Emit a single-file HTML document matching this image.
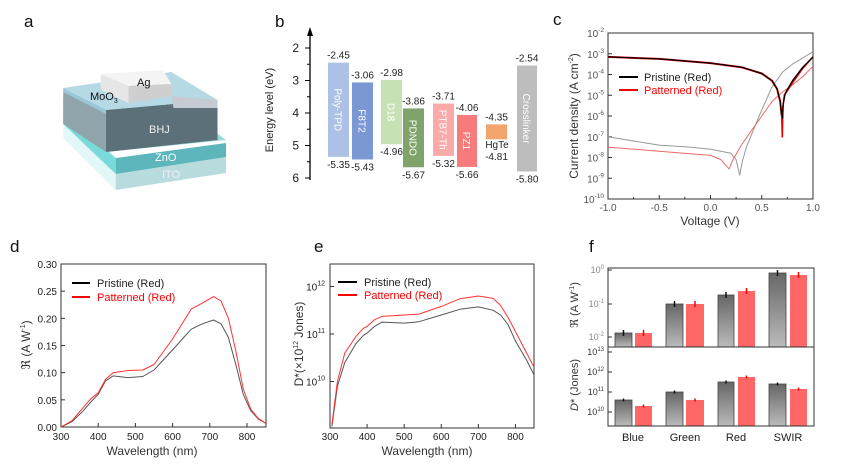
<!DOCTYPE html><html><head><meta charset="utf-8"><style>
body{margin:0;background:#fff}
svg{font-family:"Liberation Sans",Arial,sans-serif}
.t{font-size:10px;fill:#555}
.k{font-size:10px;fill:#222}
.lab{font-size:17px;fill:#111}
.ax{font-size:12px;fill:#333}
</style></head><body>
<svg id="s" width="857" height="467" viewBox="0 0 857 467" xmlns="http://www.w3.org/2000/svg">
<defs>
<linearGradient id="gg" x1="0" y1="0" x2="0" y2="1"><stop offset="0" stop-color="#666"/><stop offset="1" stop-color="#bbb"/></linearGradient>
</defs>
<text class="lab" x="24" y="27">a</text>
<text class="lab" x="275" y="27">b</text>
<text class="lab" x="553" y="25">c</text>
<text class="lab" x="10" y="252">d</text>
<text class="lab" x="314" y="252">e</text>
<text class="lab" x="589" y="252">f</text>

<g transform="scale(1.0714,1)">
<polygon points="59,138 108,190 108,174 59,124" fill="#e2f8f8"/>
<polygon points="108,190 211,173 211,157 108,174" fill="#b8dcdd"/>
<polygon points="59,124 108,174 108,158 59,110" fill="#7adada"/>
<polygon points="108,174 211,157 211,143 108,158" fill="#5cb6bc"/>
<polygon points="59,110 99,152 211,140 160,100 59,100" fill="#6fc9cc" opacity="0.7"/>
<polygon points="59,92 99,110 99,152 59,124" fill="#8fa4ab"/>
<polygon points="99,110 203,100 203,140 99,152" fill="#5b7079"/>
<polygon points="59,88 160,72 203,100 99,110" fill="#b6d9e6"/>
<polygon points="160,96 203,100 203,108 162,108" fill="#c6cad3"/>
<polygon points="59,88 99,110 99,114 59,92" fill="#9cc6d6"/>
<polygon points="94,74 152,70 160,84 120,86" fill="#f4f4f4"/>
<polygon points="120,86 160,84 160,96 120,103" fill="#cfcfcf"/>
<polygon points="94,74 120,86 120,103 94,90" fill="#e6e6e6"/>
</g>
<text x="137" y="86" font-size="11" fill="#111">Ag</text>
<text x="90" y="100" font-size="11" fill="#111">MoO<tspan font-size="7" dy="3">3</tspan></text>
<text x="149" y="133" font-size="11" fill="#eee">BHJ</text>
<text x="155" y="161" font-size="11" fill="#fff">ZnO</text>
<text x="162" y="178" font-size="11" fill="#eef">ITO</text>

<g id="b"></g><g id="c"></g><g id="d"></g><g id="e"></g><g id="f"></g>
</svg>
<script>
var NS="http://www.w3.org/2000/svg";
function el(p,t,a,txt){var e=document.createElementNS(NS,t);for(var k in a)e.setAttribute(k,a[k]);if(txt!=null)e.textContent=txt;p.appendChild(e);return e;}
function H(p,t,a,h){var e=el(p,t,a);e.innerHTML=h;return e;}
function path(p,pts,fx,fy,st,w){var d="";pts.forEach(function(q,i){d+=(i?"L":"M")+fx(q[0]).toFixed(1)+","+fy(q[1]).toFixed(1);});el(p,"path",{d:d,fill:"none",stroke:st,"stroke-width":w,"stroke-linejoin":"round"});}
// ---- b
var b=document.getElementById("b");
var yb=function(E){return 48+(E-2)*32.5;};
el(b,"line",{x1:310,y1:180,x2:310,y2:30,stroke:"#000","stroke-width":1.3});
el(b,"polygon",{points:"307,36 313,36 310,27",fill:"#000"});
for(var i=2;i<=6;i++){el(b,"line",{x1:305,x2:310,y1:yb(i),y2:yb(i),stroke:"#000"});el(b,"text",{x:299,y:yb(i)+4,"text-anchor":"end","font-size":12,fill:"#222"},""+i);}
for(var i=2.5;i<6;i+=1)el(b,"line",{x1:307,x2:310,y1:yb(i),y2:yb(i),stroke:"#000"});
H(b,"text",{transform:"translate(273,110) rotate(-90)","text-anchor":"middle","font-size":11,fill:"#222"},"Energy level (eV)");
var bars=[[328,349,2.45,5.35,"#adc1e6","Poly-TPD"],[352,373,3.06,5.43,"#7b98d4","F8T2"],[381,402,2.98,4.96,"#c6e2b4","D18"],[403,424,3.86,5.67,"#7fa36a","PDNDO"],[433,454,3.71,5.32,"#fba9a9","PTB7-Th"],[457,477,4.06,5.66,"#f87b7b","PZ1"],[486,507,4.35,4.81,"#f3a46c",""],[517,537,2.54,5.80,"#bdbdbd","Crosslinker"]];
bars.forEach(function(r){el(b,"rect",{x:r[0],y:yb(r[2]),width:r[1]-r[0],height:yb(r[3])-yb(r[2]),fill:r[4]});
var cx=(r[0]+r[1])/2;
if(r[5])el(b,"text",{transform:"translate("+(cx-4)+","+((yb(r[2])+yb(r[3]))/2)+") rotate(90)","text-anchor":"middle","font-size":10,fill:"#fff"},r[5]);
el(b,"text",{x:cx,y:yb(r[2])-4,"text-anchor":"middle","font-size":10,fill:"#222"},"-"+r[2].toFixed(2));
var ly=r[5]?yb(r[3])+11:160;
el(b,"text",{x:cx,y:ly,"text-anchor":"middle","font-size":10,fill:"#222"},"-"+r[3].toFixed(2));});
el(b,"text",{x:497,y:148,"text-anchor":"middle","font-size":10,fill:"#222"},"HgTe");
// ---- c
var c=document.getElementById("c");
var cx=function(v){return 608+(v+1)*102.5;}, cy=function(l){return 33+(-2-l)*20.75;};
el(c,"rect",{x:608,y:33,width:205,height:166,fill:"none",stroke:"#333","stroke-width":1});
for(var i=-2;i>=-10;i--){el(c,"line",{x1:608,x2:612,y1:cy(i),y2:cy(i),stroke:"#333"});H(c,"text",{x:604,y:cy(i)+4,"text-anchor":"end",class:"t"},"10<tspan font-size='6.5' dy='-5'>"+i+"</tspan>");}
[-1,-0.5,0,0.5,1].forEach(function(v){el(c,"line",{x1:cx(v),x2:cx(v),y1:199,y2:195,stroke:"#333"});el(c,"text",{x:cx(v),y:211,"text-anchor":"middle",class:"t"},v.toFixed(1));});
for(var v=-0.75;v<1;v+=0.5)el(c,"line",{x1:cx(v),x2:cx(v),y1:199,y2:197,stroke:"#333"});
el(c,"text",{x:710,y:225,"text-anchor":"middle",class:"ax"},"Voltage (V)");
H(c,"text",{transform:"translate(578,116) rotate(-90)","text-anchor":"middle",class:"ax"},"Current density (A cm<tspan font-size='7' dy='-5'>-2</tspan><tspan dy='5'>)</tspan>");
var dk=[[-1,-7],[-0.7,-7.25],[-0.5,-7.4],[-0.2,-7.5],[0,-7.6],[0.2,-7.8],[0.25,-8.1],[0.285,-8.85],[0.31,-8.2],[0.35,-7.5],[0.45,-6.3],[0.5,-5.7],[0.6,-4.6],[0.7,-3.9],[0.8,-3.5],[0.9,-3.2],[1,-2.9]];
var dr=[[-1,-7.5],[-0.5,-7.7],[0,-7.9],[0.1,-8.1],[0.18,-8.55],[0.22,-8.1],[0.3,-7.4],[0.4,-6.7],[0.5,-6],[0.6,-5.3],[0.7,-4.85],[0.8,-4.5],[0.9,-4.1],[1,-3.6]];
path(c,dk,cx,cy,"#999",1);path(c,dr,cx,cy,"#f06868",1);
var lt=[[-1,-3.15],[-0.5,-3.25],[0,-3.45],[0.3,-3.65],[0.5,-3.95],[0.6,-4.3],[0.65,-4.7],[0.68,-5.3],[0.695,-6]];
path(c,lt,cx,cy,"#e00",2);path(c,lt,cx,cy,"#000",1.2);
path(c,[[0.695,-5.9],[0.7,-7],[0.705,-5.6],[0.72,-5],[0.8,-4.4],[0.9,-3.7],[1,-3.15]],cx,cy,"#e00",1.6);
path(c,[[0.695,-5.7],[0.703,-6.1],[0.71,-5.4],[0.73,-4.9],[0.8,-4.3],[0.9,-3.65],[1,-3.15]],cx,cy,"#000",1.3);
el(c,"line",{x1:619,x2:638,y1:77,y2:77,stroke:"#000","stroke-width":2});
el(c,"line",{x1:619,x2:638,y1:90,y2:90,stroke:"#f00","stroke-width":2});
el(c,"text",{x:644,y:81,"font-size":11,fill:"#222"},"Pristine (Red)");
el(c,"text",{x:644,y:94,"font-size":11,fill:"#f00"},"Patterned (Red)");
// ---- d
var d=document.getElementById("d");
var dx=function(w){return 61+(w-300)*0.372;}, dy=function(r){return 427-r*543.3;};
el(d,"rect",{x:61,y:264,width:205,height:163,fill:"none",stroke:"#333"});
for(var i=0;i<=6;i++){var r=i*0.05;el(d,"line",{x1:61,x2:65,y1:dy(r),y2:dy(r),stroke:"#333"});el(d,"text",{x:57,y:dy(r)+4,"text-anchor":"end",class:"k"},r.toFixed(2));}
[300,400,500,600,700,800].forEach(function(w){el(d,"line",{x1:dx(w),x2:dx(w),y1:427,y2:423,stroke:"#333"});el(d,"text",{x:dx(w),y:440,"text-anchor":"middle",class:"k"},w);});
el(d,"text",{x:152,y:455,"text-anchor":"middle",class:"ax"},"Wavelength (nm)");
H(d,"text",{transform:"translate(30,345) rotate(-90)","text-anchor":"middle",class:"ax"},"ℜ (A W<tspan font-size='7' dy='-5'>-1</tspan><tspan dy='5'>)</tspan>");
path(d,[[300,0],[330,0.01],[360,0.03],[380,0.046],[400,0.06],[420,0.085],[440,0.094],[480,0.091],[520,0.093],[550,0.105],[600,0.142],[650,0.18],[680,0.19],[710,0.197],[730,0.19],[750,0.165],[770,0.115],[790,0.06],[810,0.03],[830,0.015],[850,0.007]],dx,dy,"#555",1);
path(d,[[300,0],[330,0.012],[360,0.036],[380,0.052],[400,0.063],[420,0.088],[440,0.1],[480,0.104],[520,0.105],[550,0.115],[600,0.162],[650,0.217],[680,0.228],[710,0.24],[730,0.232],[750,0.2],[770,0.14],[790,0.07],[810,0.033],[830,0.016],[850,0.007]],dx,dy,"#f33",1);
el(d,"line",{x1:72,x2:90,y1:283,y2:283,stroke:"#000","stroke-width":2});
el(d,"line",{x1:72,x2:90,y1:297,y2:297,stroke:"#f00","stroke-width":2});
el(d,"text",{x:97,y:287,"font-size":11,fill:"#222"},"Pristine (Red)");
el(d,"text",{x:97,y:301,"font-size":11,fill:"#f00"},"Patterned (Red)");
// ---- e
var e=document.getElementById("e");
var ex=function(w){return 330+(w-300)*0.3709;}, ey=function(l){return 334-(l-11)*47.5;};
el(e,"rect",{x:330,y:264,width:204,height:164,fill:"none",stroke:"#333"});
[12,11,10].forEach(function(l){el(e,"line",{x1:330,x2:334,y1:ey(l),y2:ey(l),stroke:"#333"});H(e,"text",{x:325,y:ey(l)+4,"text-anchor":"end",class:"k"},"10<tspan font-size='7' dy='-5'>"+l+"</tspan>");});
[300,400,500,600,700,800].forEach(function(w){el(e,"line",{x1:ex(w),x2:ex(w),y1:428,y2:424,stroke:"#333"});el(e,"text",{x:ex(w),y:440,"text-anchor":"middle",class:"k"},w);});
el(e,"text",{x:427,y:455,"text-anchor":"middle",class:"ax"},"Wavelength (nm)");
H(e,"text",{transform:"translate(303,344) rotate(-90)","text-anchor":"middle",class:"ax"},"D*(×10<tspan font-size='7' dy='-5'>12</tspan><tspan dy='5'> Jones)</tspan>");
path(e,[[305,9.05],[320,9.9],[340,10.4],[370,10.8],[390,10.97],[400,11.02],[420,11.16],[440,11.25],[500,11.23],[540,11.26],[600,11.4],[650,11.52],[700,11.57],[740,11.5],[760,11.4],[780,11.2],[800,10.85],[830,10.45],[850,10.14]],ex,ey,"#555",1);
path(e,[[305,9.1],[320,10.0],[340,10.6],[370,10.95],[390,11.12],[400,11.16],[420,11.3],[440,11.37],[500,11.4],[540,11.42],[600,11.58],[650,11.74],[700,11.8],[740,11.75],[760,11.6],[780,11.35],[800,11.05],[830,10.6],[850,10.3]],ex,ey,"#f33",1);
el(e,"line",{x1:338,x2:357,y1:282,y2:282,stroke:"#000","stroke-width":2});
el(e,"line",{x1:338,x2:357,y1:295,y2:295,stroke:"#f00","stroke-width":2});
el(e,"text",{x:364,y:286,"font-size":11,fill:"#222"},"Pristine (Red)");
el(e,"text",{x:364,y:299,"font-size":11,fill:"#f00"},"Patterned (Red)");
// ---- f
var f=document.getElementById("f");
var bx=[[615,632,333,400],[635,652,333,406],[666,683,304,392],[686,704,304,400],[718,734,295,382],[738,755,291,377],[769,786,273,384],[790,807,275,389]];
bx.forEach(function(q,i){var g=i%2==0;
el(f,"rect",{x:q[0],y:q[2],width:q[1]-q[0],height:347-q[2],fill:g?"url(#gg)":"#f66",stroke:g?"#444":"none","stroke-width":0.8});
el(f,"rect",{x:q[0],y:q[3],width:q[1]-q[0],height:426-q[3],fill:g?"url(#gg)":"#f66",stroke:g?"#444":"none","stroke-width":0.8});
var c0=(q[0]+q[1])/2,col=g?"#111":"#e00";
el(f,"line",{x1:c0,x2:c0,y1:q[2]-3,y2:q[2]+3,stroke:col,"stroke-width":1.5});
el(f,"line",{x1:c0,x2:c0,y1:q[3]-1.5,y2:q[3]+1.5,stroke:col,"stroke-width":1.5});});
el(f,"rect",{x:608,y:268,width:206,height:158,fill:"none",stroke:"#333"});
el(f,"line",{x1:608,x2:814,y1:347,y2:347,stroke:"#333"});
[[0,270],[-1,304],[-2,337]].forEach(function(t){el(f,"line",{x1:608,x2:612,y1:t[1],y2:t[1],stroke:"#333"});H(f,"text",{x:604,y:t[1]+3,"text-anchor":"end","font-size":9,fill:"#888"},"10<tspan font-size='6' dy='-4'>"+t[0]+"</tspan>");});
[[13,352],[12,372],[11,392],[10,412]].forEach(function(t){el(f,"line",{x1:608,x2:612,y1:t[1],y2:t[1],stroke:"#333"});H(f,"text",{x:604,y:t[1]+3,"text-anchor":"end","font-size":9,fill:"#333"},"10<tspan font-size='6' dy='-4'>"+t[0]+"</tspan>");});
H(f,"text",{transform:"translate(578,305) rotate(-90)","text-anchor":"middle","font-size":11,fill:"#333"},"ℜ (A W<tspan font-size='7' dy='-4'>-1</tspan><tspan dy='4'>)</tspan>");
H(f,"text",{transform:"translate(578,385) rotate(-90)","text-anchor":"middle","font-size":11,fill:"#333"},"<tspan font-style='italic'>D</tspan>* (Jones)");
[["Blue",633],["Green",685],["Red",736],["SWIR",788]].forEach(function(t){el(f,"text",{x:t[1],y:441,"text-anchor":"middle","font-size":11,fill:"#222"},t[0]);});
</script>
</body></html>
